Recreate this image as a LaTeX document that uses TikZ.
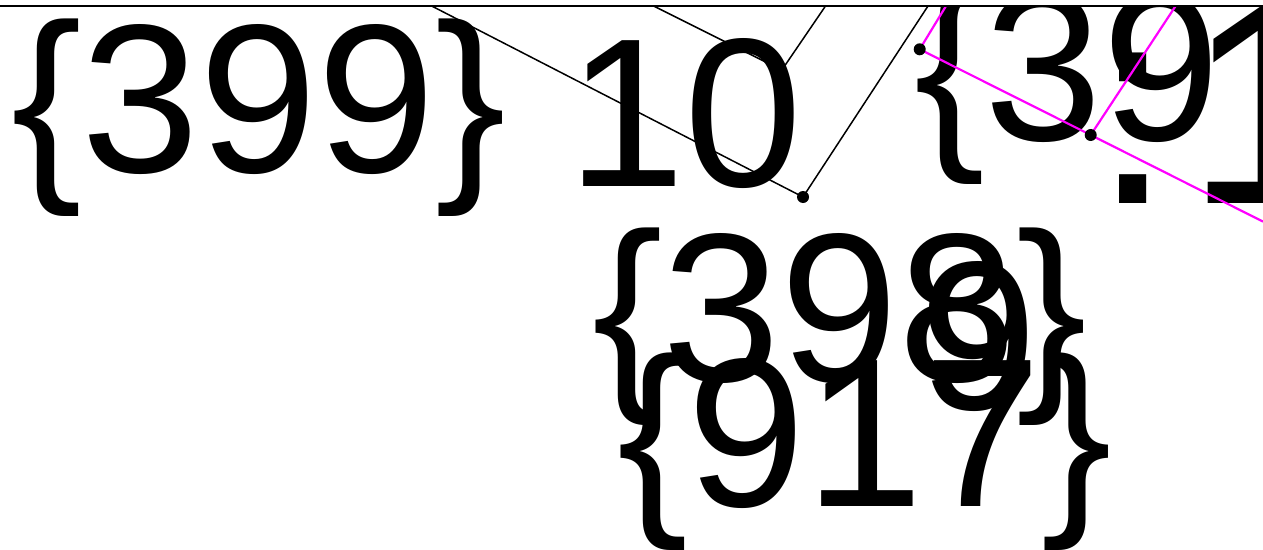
\documentclass[tikz,border=0pt]{standalone}
\usepackage{fontspec}
\setmainfont{Liberation Sans}
\definecolor{vmag}{RGB}{255,0,255}
\begin{document}
\begin{tikzpicture}[x=1pt,y=-1pt,
  lbl/.style={anchor=base west, inner sep=0pt, outer sep=0pt, font=\fontsize{212}{240}\selectfont},
  biglbl/.style={anchor=base west, inner sep=0pt, outer sep=0pt, font=\fontsize{285}{310}\selectfont},
  blk/.style={draw=black, line width=1.5pt},
  mag/.style={draw=vmag, line width=2.2pt},
  dotnode/.style={circle, fill=black, draw=none, inner sep=0pt, minimum size=12pt}]
\useasboundingbox (0,0) rectangle (1263,549);
% frame top edge
\coordinate (fl) at (0,6);
\coordinate (fr) at (1263,6);
\begin{scope}
\clip (0,6) rectangle (1263,549);
% black construction
\coordinate (A) at (803,197);
\coordinate (Atl) at (431.7,6);
\coordinate (Atr) at (928,6);
\coordinate (V) at (781.8,70.1);
\coordinate (Vl) at (653.6,6);
\coordinate (Vr) at (825.5,6);
\draw[blk] (Atl) -- (A) -- (Atr);
\draw[blk] (Vl) -- (V) -- (Vr);
% labels
\node[lbl] (t399) at (11,172) {\{399\}};
\node[lbl] (t10) at (567,186) {10};
\node[lbl] (t39) at (914,140) {\{39};
\node[biglbl] (tp1) at (1093,203) {:\kern14pt 1};
\node[lbl] (t398) at (592,381) {\{398\}};
\node[lbl] (t9) at (919,409) {9};
\node[lbl] (t917) at (617,506) {\{917\}};
% magenta construction
\coordinate (M1) at (919.7,49.3);
\coordinate (M2) at (1090.7,135);
\coordinate (M1t) at (946,6);
\coordinate (M2t) at (1175.6,6);
\coordinate (Mr) at (1263,221.6);
\draw[mag] (M1t) -- (M1) -- (M2) -- (Mr);
\draw[mag] (M2) -- (M2t);
% points
\node[dotnode] (pA) at (A) {};
\node[dotnode] (pM1) at (M1) {};
\node[dotnode] (pM2) at (M2) {};
\end{scope}
\draw[line width=2.3pt] (fl) -- (fr);
\end{tikzpicture}
\end{document}
